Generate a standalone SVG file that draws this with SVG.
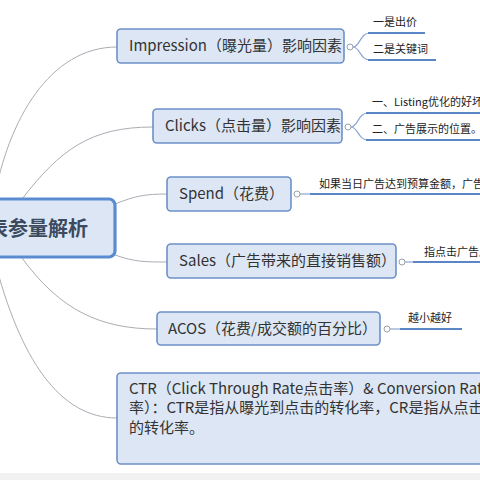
<svg xmlns="http://www.w3.org/2000/svg" width="480" height="480" viewBox="0 0 480 480">
<style>
.node{fill:#dce6f4;stroke:#6d90c8;stroke-width:1.6}
.t{font-family:"Noto Sans CJK SC","Liberation Sans",sans-serif;font-size:15px;fill:#333}
.s{font-family:"Noto Sans CJK SC","Liberation Sans",sans-serif;font-size:11px;fill:#222}
.conn{fill:none;stroke:#a9adb3;stroke-width:1}
.ul{fill:none;stroke:#5b86c5;stroke-width:2.2}
.sub{fill:none;stroke:#8aa6d2;stroke-width:1.2}
.col{fill:#fff;stroke:#9aa0a8;stroke-width:1}
</style>
<rect width="480" height="480" fill="#fff"/>
<rect x="0" y="473" width="480" height="7" fill="#f2f2f2"/>
<g id="connectors">
<path class="conn" d="M-6,200 C8,120 50,47 117,47"/>
<path class="conn" d="M22,199 C60,150 90,127 153,127"/>
<path class="conn" d="M115,204 C135,196 145,194 167,194"/>
<path class="conn" d="M115,255 C135,262 145,262 167,262"/>
<path class="conn" d="M22,258 C60,310 100,329 157,329"/>
<path class="conn" d="M-6,258 C20,360 60,418 117,418"/>
<path class="sub" d="M353,47 C360,47 360,33 370,33"/>
<path class="sub" d="M353,47 C360,47 360,60 370,60"/>
<path class="ul" d="M368,33 H425"/>
<path class="ul" d="M368,60 H436"/>
<path class="sub" d="M351,127 C358,127 358,113 368,113"/>
<path class="sub" d="M351,127 C358,127 358,140 368,140"/>
<path class="ul" d="M366,113 H480"/>
<path class="ul" d="M366,140 H480"/>
<path class="sub" d="M300,194 H312"/>
<path class="ul" d="M310,194 H480"/>
<path class="sub" d="M405,262 H415"/>
<path class="ul" d="M413,262 H480"/>
<path class="sub" d="M390,329 H402"/>
<path class="ul" d="M400,329 H462"/>
</g>
<g id="center">
<rect x="-30" y="199" width="145" height="58" rx="6" fill="#dce6f4" stroke="#5b8bd0" stroke-width="3.2"/>
<text x="-12" y="236" font-family="Noto Sans CJK SC,Liberation Sans,sans-serif" font-size="20" font-weight="bold" fill="#3b4a5e">表参量解析</text>
</g>
<g id="impression">
<rect class="node" x="117" y="29" width="227" height="34" rx="4"/>
<text class="t" x="129" y="51">Impression（曝光量）影响因素</text>
<circle class="col" cx="350" cy="47" r="3"/>
</g>
<g id="impression-1"><text class="s" x="373" y="26">一是出价</text></g>
<g id="impression-2"><text class="s" x="373" y="53">二是关键词</text></g>
<g id="clicks">
<rect class="node" x="153" y="109" width="189" height="34" rx="4"/>
<text class="t" x="165" y="131">Clicks（点击量）影响因素</text>
<circle class="col" cx="348" cy="127" r="3"/>
</g>
<g id="clicks-1"><text class="s" x="372" y="106">一、Listing优化的好坏</text></g>
<g id="clicks-2"><text class="s" x="372" y="133">二、广告展示的位置。</text></g>
<g id="spend">
<rect class="node" x="167" y="177" width="124" height="34" rx="4"/>
<text class="t" x="179" y="199">Spend（花费）</text>
<circle class="col" cx="297" cy="194" r="3"/>
</g>
<g id="spend-1"><text class="s" x="319" y="188">如果当日广告达到预算金额，广告</text></g>
<g id="sales">
<rect class="node" x="167" y="244" width="229" height="34" rx="4"/>
<text class="t" x="179" y="266">Sales（广告带来的直接销售额）</text>
<circle class="col" cx="402" cy="262" r="3"/>
</g>
<g id="sales-1"><text class="s" x="424" y="256">指点击广告后</text></g>
<g id="acos">
<rect class="node" x="157" y="312" width="223" height="33" rx="4"/>
<text class="t" x="168" y="334">ACOS（花费/成交额的百分比）</text>
<circle class="col" cx="387" cy="329" r="3"/>
</g>
<g id="acos-1"><text class="s" x="408" y="322">越小越好</text></g>
<g id="ctr">
<rect class="node" x="117" y="373" width="380" height="91" rx="4"/>
<text class="t" x="129" y="394">CTR（Click Through Rate点击率）&amp; Conversion Rate（转化</text>
<text class="t" x="129" y="413">率）：CTR是指从曝光到点击的转化率，CR是指从点击到</text>
<text class="t" x="129" y="433">的转化率。</text>
</g>
</svg>
